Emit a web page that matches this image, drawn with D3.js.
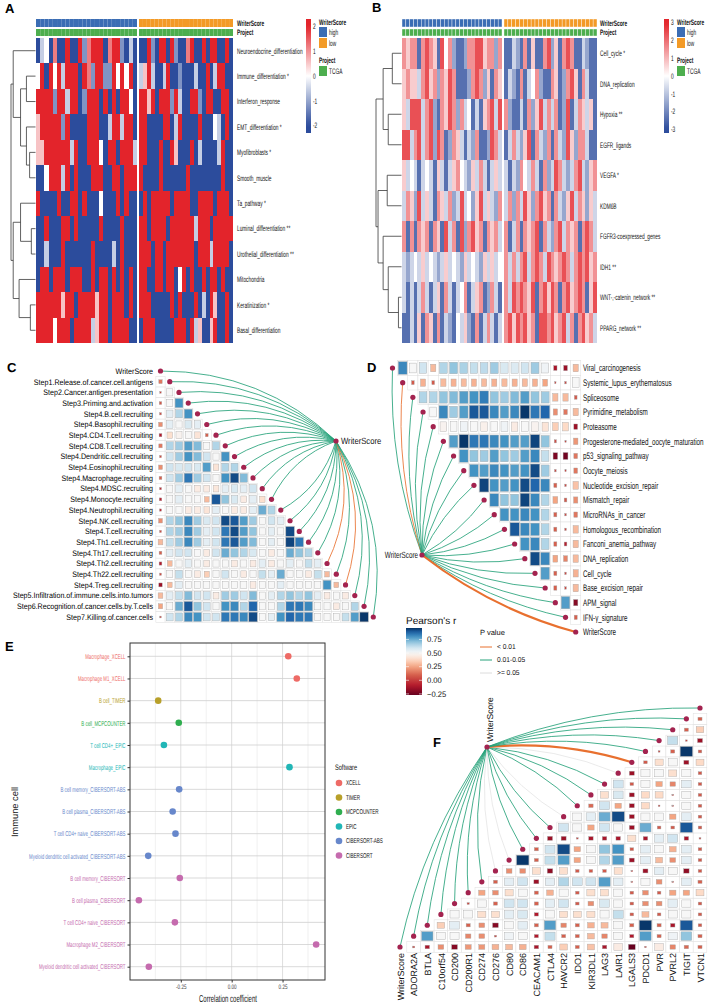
<!DOCTYPE html>
<html>
<head>
<meta charset="utf-8">
<script src="https://cdn.jsdelivr.net/npm/d3@7"></script>
<style>
  body { margin: 0; background: #fff; }
  svg { display: block; font-family: "Liberation Sans", Arial, sans-serif; }
  svg text { text-rendering: geometricPrecision; }
</style>
</head>
<body>
<div id="chart"></div>
<script>
// ---------------- data ----------------
// A: one character per sample (R r p = reds, w = white, l b B = blues)
var aRows = ["Neuroendocrine_differentiation", "Immune_differentiation *", "Interferon_response",
  "EMT_differentiation *", "Myofibroblasts *", "Smooth_muscle", "Ta_pathway *",
  "Luminal_differentiation **", "Urothelial_differentiation **", "Mitochondria",
  "Keratinization *", "Basal_differentiation"];
var aHigh = ["BlwBrBBRBBRbrRRRBrRRbBlB", "wRBRwRlRRRBRrbRRbbRwRwRB", "RRRRbRRlRRBbRRRBRBRBRRwB",
  "pRRRRRbRBBBBRRRBBlRRlRRB", "ppRRRRRRlRBBRRRwBRRBRRRl", "BBwRRRlRBRBBBRRRBBRRBRRR",
  "RBBBBRBBRRBRBBBwBBBRBRBB", "BBRBBBRRBRBBBBBRBBBBRBBB", "BBlBBBRBBBBBBRBBBBlBRBBB",
  "BRRBRRRBRRRBBRBRRBRBRBRB", "RRRRRRpRRBRRRRpRRBRRRBRB", "RRRRwRRRBRRRRlpRRBRRRRBB"];
var aLow = ["BBRbBRRBRbBBrRBBRBRRBBRB", "lpRlBBlRBBbBBBlBBRBlRRBB", "RRpRBRRRbRlBBRRbBRRBBRRB",
  "RRBBBBRRBlRBBBBRBBBwlBRB", "RRBBBRBBRpBBBRBlBBBBlRBB", "RBBBBRBBBBBBRBBBBBBBBRBB",
  "BRBRRRRRBRRRRBBRRRRBRRRB", "RRBRRRRBRRRRRRlRRRBRRRRR", "RRRBRRBRRRRRRRBRRRlRRRRB",
  "RRBBRRBRRBwRBRBBRBRRBRBB", "RRRBBBBBRBRBBBRBlBRpBBRB", "BRRRBBBBBRRRBRlpBBpRBBRB"];
var aLevels = {R: 2, r: 1.2, p: 0.55, w: 0, l: -0.55, b: -1.2, B: -2};
// merges: [child, child, height]; numbers are rows, "mK" is merge K
var aTree = [[1, 2, 0.37], [4, 5, 0.24], [3, "m1", 0.37], ["m0", "m2", 0.61], [0, "m3", 0.91],
  [7, 8, 0.17], [6, "m5", 0.61], [10, 11, 0.21], [9, "m7", 0.67], ["m6", "m8", 0.91], ["m4", "m9", 1]];
var aTicks = [2, 1, 0, -1, -2];

// B
var bRows = ["Cell_cycle *", "DNA_replication", "Hypoxia **", "EGFR_ligands", "VEGFA *", "KDM6B",
  "FGFR3-coexpressed_genes", "IDH1 **", "WNT-,-catenin_network **", "PPARG_network **"];
var bHigh = ["rprrBrRrpBRwrbBBbrrRRprrbr", "prpplrRprbrpRrBBBbrRrbpBrp", "plRRRlrRbBrpRrbrlwBlBprRlR",
  "RRlrRlrRbRrBbrplBlbrBBbRrl", "plwlBlwlBplBlprwlbplrlBlpl", "lrpbRlplBrplrblRlwbpRlplbr",
  "rBrBrprBrpBRlrBRbrRprBrprl", "lblwlplwlblplwlbplwlbplplw", "lBlBlrlBlpBrlBlwrBlprBbrlB",
  "BBlBpBrpBrBlbBwlpbBrBlrlBl"];
var bLow = ["BBlbBrBpBBrRbpBrRrBBlbBB", "BlbBrBlwrbBBrpBbrRpBrlBB", "rbBBlBrbpRlrlrBbRBlrplpB",
  "BlrlbpRBrlbrBrlbRpbrrlBB", "lBlbrwlrlBrblRrlblrRlbpr", "lrbrlRpbrRprBrlbpRlrpbpl",
  "rBlrBrprRBrlbrRlrprBrRrl", "rlrlrRlrRrlRrprRrlrRrRpr", "rlRrRrpRBrRpRrBrRprRrBpR",
  "rRpRrRprBRRrRprRlrBrRprl"];
var bLevels = {R: 2.4, r: 1.5, p: 0.7, w: 0, l: -0.7, b: -1.5, B: -2.4};
var bTree = [[0, 1, 0.36], [2, 3, 0.52], ["m0", "m1", 0.72], [4, 5, 0.56], [8, 9, 0.12],
  [7, "m4", 0.52], [6, "m5", 0.72], ["m3", "m6", 0.92], ["m2", "m7", 1]];
var bTicks = [3, 2, 1, 0, -1, -2, -3];

// C: lower triangle, row i holds r with rows 0..i-1
var cRows = ["WriterScore", "Step1.Release.of.cancer.cell.antigens", "Step2.Cancer.antigen.presentation",
  "Step3.Priming.and.activation", "Step4.B.cell.recruiting", "Step4.Basophil.recruiting",
  "Step4.CD4.T.cell.recruiting", "Step4.CD8.T.cell.recruiting", "Step4.Dendritic.cell.recruiting",
  "Step4.Eosinophil.recruiting", "Step4.Macrophage.recruiting", "Step4.MDSC.recruiting",
  "Step4.Monocyte.recruiting", "Step4.Neutrophil.recruiting", "Step4.NK.cell.recruiting",
  "Step4.T.cell.recruiting", "Step4.Th1.cell.recruiting", "Step4.Th17.cell.recruiting",
  "Step4.Th2.cell.recruiting", "Step4.Th22.cell.recruiting", "Step4.Treg.cell.recruiting",
  "Step5.Infiltration.of.immune.cells.into.tumors", "Step6.Recognition.of.cancer.cells.by.T.cells",
  "Step7.Killing.of.cancer.cells"];
var cCells = [
  [],
  [0.15],
  [0.03, 0.5],
  [0.08, 0.5, 0.8],
  [0.05, 0.55, 0.65, 0.8],
  [0.2, 0.55, 0.5, 0.58, 0.55],
  [-0.1, 0.4, 0.48, 0.5, 0.42, 0.1],
  [0.15, 0.65, 0.68, 0.78, 0.72, 0.5, 0.65],
  [0.05, 0.6, 0.68, 0.8, 0.72, 0.6, 0.5, 0.8],
  [0.2, 0.6, 0.58, 0.6, 0.58, 0.78, 0.42, 0.65, 0.65],
  [0.1, 0.6, 0.68, 0.85, 0.68, 0.6, 0.5, 0.8, 0.92, 0.72],
  [-0.05, 0.5, 0.55, 0.5, 0.45, 0.45, 0.43, 0.55, 0.58, 0.55, 0.6],
  [-0.08, 0.5, 0.55, 0.5, 0.5, 0.3, 0.9, 0.7, 0.58, 0.45, 0.55, 0.4],
  [-0.05, 0.5, 0.5, 0.45, 0.45, 0.42, 0.55, 0.5, 0.45, 0.45, 0.55, 0.75, 0.65],
  [0.2, 0.65, 0.7, 0.82, 0.68, 0.58, 0.6, 0.92, 0.9, 0.78, 0.68, 0.5, 0.6, 0.55],
  [0.05, 0.65, 0.68, 0.82, 0.68, 0.55, 0.6, 0.85, 0.92, 0.78, 0.7, 0.5, 0.55, 0.5, 0.92],
  [0.3, 0.62, 0.68, 0.82, 0.68, 0.55, 0.6, 0.85, 0.9, 0.78, 0.72, 0.5, 0.55, 0.5, 0.93, 0.85],
  [0.1, 0.55, 0.6, 0.6, 0.5, 0.45, 0.6, 0.75, 0.7, 0.65, 0.58, 0.5, 0.45, 0.5, 0.75, 0.7, 0.65],
  [-0.1, 0.3, 0.5, 0.55, 0.5, 0.45, 0.5, 0.5, 0.45, 0.5, 0.45, 0.55, 0.45, 0.5, 0.55, 0.5, 0.62, 0.55],
  [0.05, 0.5, 0.62, 0.5, 0.45, 0.35, 0.5, 0.6, 0.5, 0.45, 0.5, 0.62, 0.55, 0.75, 0.5, 0.5, 0.45, 0.62, 0.3],
  [-0.15, 0.3, 0.55, 0.5, 0.5, 0.5, 0.5, 0.5, 0.5, 0.5, 0.45, 0.5, 0.5, 0.55, 0.5, 0.5, 0.5, 0.5, 0.8, 0.3],
  [0.3, 0.55, 0.62, 0.72, 0.6, 0.6, 0.45, 0.68, 0.68, 0.6, 0.72, 0.5, 0.55, 0.65, 0.7, 0.65, 0.7, 0.55, 0.45, 0.5, 0.45],
  [0.25, 0.5, 0.75, 0.9, 0.7, 0.6, 0.5, 0.8, 0.82, 0.65, 0.88, 0.5, 0.5, 0.65, 0.85, 0.85, 0.82, 0.5, 0.5, 0.45, 0.5, 0.65],
  [0.03, 0.6, 0.65, 0.82, 0.8, 0.6, 0.6, 0.85, 0.85, 0.82, 0.92, 0.5, 0.55, 0.8, 0.88, 0.85, 0.85, 0.5, 0.5, 0.5, 0.62, 0.78, 0.95]
];
// link p value class per row: a < 0.01, b 0.01-0.05, c >= 0.05
var cLinkP = "bbbbbbbbbbbbbbbbbbababbb".split("");

// D: upper triangle, row i holds r with rows i+1..end
var dRows = ["Viral_carcinogenesis", "Systemic_lupus_erythematosus", "Spliceosome", "Pyrimidine_metabolism",
  "Proteasome", "Progesterone-mediated_oocyte_maturation", "p53_signaling_pathway", "Oocyte_meiosis",
  "Nucleotide_excision_repair", "Mismatch_repair", "MicroRNAs_in_cancer", "Homologous_recombination",
  "Fanconi_anemia_pathway", "DNA_replication", "Cell_cycle", "Base_excision_repair", "APM_signal",
  "IFN-γ_signature", "WriterScore"];
var dCells = [
  [0.82, 0.5, 0.6, 0.3, 0.65, 0.7, 0.66, 0.62, 0.63, 0.68, 0.58, 0.57, 0.6, 0.68, 0.52, -0.12, -0.15, 0.3],
  [0.08, 0.28, 0.08, 0.3, 0.28, 0.3, 0.28, 0.3, 0.28, 0.3, 0.28, 0.3, 0.28, 0.25, 0.02, 0.03, 0.5],
  [0.65, 0.65, 0.7, 0.72, 0.78, 0.8, 0.84, 0.7, 0.68, 0.72, 0.78, 0.7, 0.68, 0.3, 0.3, 0.08],
  [0.5, 0.82, 0.68, 0.78, 0.9, 0.9, 0.82, 0.78, 0.82, 0.95, 0.85, 0.88, 0.2, 0.15, 0.3],
  [0.48, 0.5, 0.52, 0.5, 0.47, 0.5, 0.52, 0.45, 0.5, 0.48, 0.42, 0.35, 0.38, -0.15],
  [0.78, 0.95, 0.85, 0.85, 0.82, 0.8, 0.78, 0.78, 0.93, 0.7, 0.05, 0.02, 0.22],
  [0.8, 0.7, 0.68, 0.78, 0.7, 0.68, 0.78, 0.82, 0.62, -0.22, -0.25, 0.15],
  [0.8, 0.78, 0.82, 0.8, 0.78, 0.8, 0.92, 0.68, 0.03, 0.02, 0.15],
  [0.93, 0.8, 0.78, 0.8, 0.92, 0.88, 0.82, 0.1, 0.03, 0.32],
  [0.82, 0.7, 0.7, 0.93, 0.82, 0.65, 0.25, 0.08, 0.2],
  [0.8, 0.8, 0.82, 0.8, 0.65, 0.1, 0.03, 0.15],
  [0.9, 0.82, 0.8, 0.65, 0.1, 0.03, 0.3],
  [0.8, 0.82, 0.65, 0.1, -0.08, 0.3],
  [0.92, 0.82, 0.25, 0.18, 0.3],
  [0.78, 0.1, 0.03, 0.28],
  [0.1, 0.03, 0.3],
  [0.78, -0.2],
  [0.1],
  []
];
var dLinkP = "babbbbbbbbbbbbbbbba".split("");
var dThick = ["WriterScore"];

// E
var eCells = ["Macrophage_XCELL", "Macrophage M1_XCELL", "B cell_TIMER", "B cell_MCPCOUNTER",
  "T cell CD4+_EPIC", "Macrophage_EPIC", "B cell memory_CIBERSORT-ABS", "B cell plasma_CIBERSORT-ABS",
  "T cell CD4+ naive_CIBERSORT-ABS", "Myeloid dendritic cell activated_CIBERSORT-ABS",
  "B cell memory_CIBERSORT", "B cell plasma_CIBERSORT", "T cell CD4+ naive_CIBERSORT",
  "Macrophage M2_CIBERSORT", "Myeloid dendritic cell activated_CIBERSORT"];
var eCoef = [0.278, 0.32, -0.361, -0.26, -0.333, 0.284, -0.258, -0.29, -0.276, -0.41,
  -0.255, -0.456, -0.279, 0.415, -0.407];
var eSoftware = ["XCELL", "XCELL", "TIMER", "MCPCOUNTER", "EPIC", "EPIC", "CIBERSORT-ABS",
  "CIBERSORT-ABS", "CIBERSORT-ABS", "CIBERSORT-ABS", "CIBERSORT", "CIBERSORT", "CIBERSORT",
  "CIBERSORT", "CIBERSORT"];
var softwareLevels = ["XCELL", "TIMER", "MCPCOUNTER", "EPIC", "CIBERSORT-ABS", "CIBERSORT"];
var eTicks = [-0.25, 0, 0.25];

// F: row k holds r with genes k+1..end
var fVars = ["WriterScore", "ADORA2A", "BTLA", "C10orf54", "CD200", "CD200R1", "CD274", "CD276",
  "CD80", "CD86", "CEACAM1", "CTLA4", "HAVCR2", "IDO1", "KIR3DL1", "LAG3", "LAIR1", "LGALS3",
  "PDCD1", "PVR", "PVRL2", "TIGIT", "VTCN1"];
var fCells = [
  [0.03, -0.12, 0.2, -0.2, 0.22, 0.22, 0.28, 0.3, 0.28, -0.12, 0.1, 0.35, 0.1, 0.32, -0.12, 0.45, -0.28, 0.02, 0.45, 0.18, 0.12, 0.1],
  [0.78, 0.5, 0.5, 0.18, 0.2, 0.03, 0.52, 0.5, -0.1, 0.62, 0.1, 0.1, 0.3, 0.18, 0.5, -0.1, 0.78, 0.1, 0.52, 0.7, 0.1],
  [0.35, 0.55, 0.1, 0.2, -0.2, 0.5, 0.55, 0.1, 0.78, 0.18, 0.1, 0.28, 0.3, 0.5, 0.1, 0.95, 0.1, -0.12, 0.9, 0.08],
  [0.5, 0.5, 0.4, 0.4, 0.55, 0.58, -0.1, 0.5, 0.4, 0.4, 0.4, 0.5, 0.62, 0.08, 0.3, 0.08, 0.5, 0.5, 0.08],
  [0.03, 0.5, 0.1, 0.6, 0.6, 0.1, 0.55, 0.6, 0.08, 0.2, 0.58, 0.5, 0.08, 0.2, 0.2, 0.55, 0.5, 0.08],
  [0.25, 0.2, 0.4, 0.5, 0.1, 0.28, 0.5, 0.08, 0.4, 0.4, 0.5, 0.08, 0.2, 0.08, 0.25, 0.25, 0.38],
  [0.1, 0.55, 0.6, -0.15, 0.55, 0.65, 0.6, 0.6, 0.78, 0.55, 0.02, 0.5, 0.2, 0.02, 0.55, 0.1],
  [0.2, 0.2, 0.4, -0.18, 0.4, 0.08, 0.08, 0.08, 0.4, 0.02, -0.15, 0.55, 0.5, -0.18, 0.08],
  [0.95, 0.1, 0.62, 0.78, 0.25, 0.5, 0.65, 0.78, -0.15, 0.55, 0.3, 0.2, 0.55, 0.08],
  [0.1, 0.6, 0.92, 0.25, 0.5, 0.7, 0.8, 0.08, 0.55, 0.5, 0.28, 0.55, 0.08],
  [-0.15, -0.15, 0.02, -0.12, -0.12, -0.12, 0.4, -0.12, 0.55, 0.6, -0.12, 0.02],
  [0.6, 0.5, 0.25, 0.6, 0.5, -0.15, 0.75, 0.08, 0.08, 0.9, 0.08],
  [0.5, 0.55, 0.75, 0.92, -0.15, 0.5, 0.5, 0.25, 0.55, 0.08],
  [0.12, 0.6, 0.25, -0.15, 0.38, 0.02, 0.02, 0.5, 0.08],
  [0.4, 0.58, -0.15, 0.38, 0.38, 0.02, 0.5, 0.08],
  [0.6, 0.08, 0.5, 0.25, 0.18, 0.55, 0.08],
  [-0.15, 0.5, 0.5, 0.4, 0.5, 0.08],
  [0.08, 0.4, 0.5, -0.15, 0.38],
  [0.02, 0.1, 0.95, 0.08],
  [0.62, 0.02, -0.15],
  [0.1, 0.35],
  [0.1],
  []
];
var fLinkP = "bbbbbbbccbbbcbbbcabbbbb".split("");
var fThick = ["LGALS3"];

var rTicks = [0.75, 0.5, 0.25, 0, -0.25];
var pLabels = {a: "< 0.01", b: "0.01-0.05", c: ">= 0.05"};

// ---------------- styles ----------------
var linkColor = {a: "#E8702F", b: "#26A27A", c: "#DCDCDC"};
var dotColor = "#A3234F";
var groupColor = {high: "#3B6DB4", low: "#F39A26", TCGA: "#4DAE4E"};
var swColor = d3.scaleOrdinal().domain(softwareLevels)
  .range(["#EE6B66", "#B8A02A", "#2FAE4F", "#21B6B6", "#6787CB", "#C56BAE"]);
var rColor = d3.scaleLinear()
  .domain([-0.27, -0.1, 0.1, 0.25, 0.38, 0.5, 0.6, 0.7, 0.8, 0.88, 0.96])
  .range(["#67001F", "#B2182B", "#D6604D", "#F4A582", "#FDDBC7", "#F7F7F7", "#D1E5F0",
    "#92C5DE", "#4393C3", "#2166AC", "#053061"]).clamp(true);

var svg = d3.select("#chart").append("svg").attr("width", 710).attr("height", 1004);
var defs = svg.append("defs");

function txt(g, x, y, s, o) {
  o = o || {};
  var tf = "translate(" + x + "," + y + ")";
  if (o.rot) tf += " rotate(" + o.rot + ")";
  if (o.sx && o.sx !== 1) tf += " scale(" + o.sx + ",1)";
  return g.append("text").attr("transform", tf)
    .attr("font-size", o.fs || 8)
    .attr("font-weight", o.bold ? "bold" : null)
    .attr("text-anchor", o.anchor || "start")
    .attr("dy", "0.35em")
    .attr("fill", o.fill || "#111")
    .text(s);
}

function gradient(id, scale, top, bottom) {
  var lg = defs.append("linearGradient").attr("id", id)
    .attr("x1", 0).attr("y1", 0).attr("x2", 0).attr("y2", 1);
  d3.range(0, 1.001, 0.05).forEach(function(t) {
    lg.append("stop").attr("offset", t).attr("stop-color", scale(top + (bottom - top) * t));
  });
}

// ---------- heatmap helpers ----------
function drawHeat(g, rows, high, low, lv, color, box) {
  var y = d3.scaleBand().domain(rows).range([box.y0, box.y1]);
  rows.forEach(function(r, i) {
    [[high[i], box.hx], [low[i], box.lx]].forEach(function(p) {
      var codes = p[0].split("");
      var x = d3.scaleBand().domain(d3.range(codes.length)).range(p[1]);
      g.selectAll(null).data(codes).enter().append("rect")
        .attr("x", function(d, j) { return x(j); })
        .attr("y", y(r))
        .attr("width", x.bandwidth())
        .attr("height", y.bandwidth())
        .attr("shape-rendering", "crispEdges")
        .attr("fill", function(d) { return color(lv[d]); });
    });
    txt(g, box.lab, y(r) + y.bandwidth() / 2, r, {fs: 8, sx: 0.6});
  });
  return y;
}

function drawAnno(g, nHigh, nLow, box, sep) {
  [["high", nHigh, box.hx], ["low", nLow, box.lx]].forEach(function(p) {
    var x = d3.scaleBand().domain(d3.range(p[1])).range(p[2]);
    [[groupColor[p[0]], box.a0, 8], [groupColor.TCGA, box.a1, 7]].forEach(function(b) {
      g.selectAll(null).data(d3.range(p[1])).enter().append("rect")
        .attr("x", function(d) { return x(d); }).attr("y", b[1])
        .attr("width", x.bandwidth()).attr("height", b[2])
        .attr("fill", b[0])
        .attr("stroke", sep ? "#fff" : null).attr("stroke-width", sep ? 0.4 : null);
    });
  });
  txt(g, box.lab, box.a0 + 4, "WriterScore", {fs: 8, sx: 0.6, bold: true});
  txt(g, box.lab, box.a1 + 3.5, "Project", {fs: 8, sx: 0.6, bold: true});
}

function drawTree(g, merges, y, rows, hx) {
  var nodes = {};
  function pos(id) {
    if (typeof id === "number") return {x: hx(0), y: y(rows[id]) + y.bandwidth() / 2};
    return nodes[id];
  }
  merges.forEach(function(m, k) {
    var a = pos(m[0]), b = pos(m[1]), h = hx(m[2]);
    var p = d3.path();
    p.moveTo(a.x, a.y); p.lineTo(h, a.y); p.lineTo(h, b.y); p.lineTo(b.x, b.y);
    g.append("path").attr("d", p.toString()).attr("fill", "none")
      .attr("stroke", "#3a3a3a").attr("stroke-width", 0.8);
    nodes["m" + k] = {x: h, y: (a.y + b.y) / 2};
  });
}

function heatLegend(g, id, color, ticks, lim, box) {
  gradient(id, color, lim, -lim);
  var yb = d3.scaleLinear().domain([lim, -lim]).range([box.y0, box.y1]);
  g.append("rect").attr("x", box.x).attr("y", box.y0).attr("width", box.w)
    .attr("height", box.y1 - box.y0).attr("fill", "url(#" + id + ")");
  ticks.forEach(function(t) {
    txt(g, box.x + box.w + 2, yb(t), String(t), {fs: 8, sx: 0.6});
  });
  var lx = box.lx;
  txt(g, lx, 22, "WriterScore", {fs: 8, sx: 0.6, bold: true});
  [["high", 27], ["low", 38]].forEach(function(d) {
    g.append("rect").attr("x", lx).attr("y", d[1]).attr("width", 8).attr("height", 10).attr("fill", groupColor[d[0]]);
    txt(g, lx + 10, d[1] + 5, d[0], {fs: 8, sx: 0.6});
  });
  txt(g, lx, 60, "Project", {fs: 8, sx: 0.6, bold: true});
  g.append("rect").attr("x", lx).attr("y", 66).attr("width", 8).attr("height", 10).attr("fill", groupColor.TCGA);
  txt(g, lx + 10, 71, "TCGA", {fs: 8, sx: 0.6});
}

// ---------- panel A ----------
var gA = svg.append("g");
var heatA = d3.scaleLinear().domain([-2, 0, 2]).range(["#2C4C9C", "#ffffff", "#E3242B"]).clamp(true);
var boxA = {y0: 38, y1: 343, hx: [36, 137], lx: [139, 233], lab: 237, a0: 19, a1: 29};
var yA = drawHeat(gA, aRows, aHigh, aLow, aLevels, heatA, boxA);
drawAnno(gA, aHigh[0].length, aLow[0].length, boxA, false);
drawTree(gA, aTree, yA, aRows, d3.scaleLinear().domain([0, 1]).range([35.5, 11]));
heatLegend(gA, "gradA", heatA, aTicks, 2.3, {x: 306, w: 5, y0: 19, y1: 133, lx: 319});

// ---------- panel B ----------
var gB = svg.append("g");
var heatB = d3.scaleLinear().domain([-3, 0, 3]).range(["#2C4C9C", "#ffffff", "#E3242B"]).clamp(true);
var boxB = {y0: 38, y1: 343, hx: [402, 502], lx: [504, 597], lab: 600, a0: 19, a1: 29};
var yB = drawHeat(gB, bRows, bHigh, bLow, bLevels, heatB, boxB);
drawAnno(gB, bHigh[0].length, bLow[0].length, boxB, true);
drawTree(gB, bTree, yB, bRows, d3.scaleLinear().domain([0, 1]).range([401.5, 376]));
heatLegend(gB, "gradB", heatB, bTicks, 3.2, {x: 664, w: 5, y0: 19, y1: 133, lx: 677});

// ---------- correlation helpers ----------
function drawCorr(g, data, w, h) {
  g.selectAll(null).data(data).enter().append("rect")
    .attr("x", function(d) { return d.cx - w / 2; }).attr("y", function(d) { return d.cy - h / 2; })
    .attr("width", w).attr("height", h)
    .attr("fill", "#fff").attr("stroke", "#dedede").attr("stroke-width", 0.5);
  g.selectAll(null).data(data).enter().append("rect")
    .each(function(d) { d.f = Math.max(0.12, Math.min(1, Math.sqrt(Math.abs(d.r)) * 1.05)) * 0.9; })
    .attr("x", function(d) { return d.cx - w * d.f / 2; })
    .attr("y", function(d) { return d.cy - h * d.f / 2; })
    .attr("width", function(d) { return w * d.f; })
    .attr("height", function(d) { return h * d.f; })
    .attr("fill", function(d) { return rColor(d.r); })
    .attr("stroke", "#a8a8a8").attr("stroke-width", 0.4);
}

// curved link from hub to each point, bent away from the reference point
function drawLinks(g, hub, targets, ref, k) {
  targets.forEach(function(t) {
    var dx = t.x - hub[0], dy = t.y - hub[1], len = Math.hypot(dx, dy);
    var mx = (hub[0] + t.x) / 2, my = (hub[1] + t.y) / 2;
    var nx = -dy / len, ny = dx / len, off = k * len;
    var c1 = [mx + nx * off, my + ny * off], c2 = [mx - nx * off, my - ny * off];
    var c = Math.hypot(c1[0] - ref[0], c1[1] - ref[1]) > Math.hypot(c2[0] - ref[0], c2[1] - ref[1]) ? c1 : c2;
    var p = d3.path();
    p.moveTo(hub[0], hub[1]);
    p.quadraticCurveTo(c[0], c[1], t.x, t.y);
    g.append("path").attr("d", p.toString()).attr("fill", "none")
      .attr("stroke", linkColor[t.p])
      .attr("stroke-width", t.thick ? 2.2 : (t.p === "c" ? 0.6 : 0.85));
  });
}

function drawDots(g, pts) {
  g.selectAll(null).data(pts).enter().append("circle")
    .attr("cx", function(d) { return d.x; }).attr("cy", function(d) { return d.y; })
    .attr("r", 2.6).attr("fill", dotColor);
}

// ---------- panel C ----------
var gC = svg.append("g");
var yC = d3.scalePoint().domain(cRows).range([371, 617]);
var xC = d3.scalePoint().domain(cRows).range([160.5, 373.3]);
var cData = [];
cCells.forEach(function(row, i) {
  row.forEach(function(r, j) { cData.push({cx: xC(cRows[j]), cy: yC(cRows[i]), r: r}); });
});
var cPts = cRows.map(function(r, i) { return {x: xC(r), y: yC(r), p: cLinkP[i]}; });
var hubC = [336, 441];
drawLinks(gC, hubC, cPts, [240, 560], 0.2);
drawCorr(gC, cData, xC.step(), yC.step());
drawDots(gC, cPts.concat([{x: hubC[0], y: hubC[1]}]));
cRows.forEach(function(r) { txt(gC, 153, yC(r), r, {fs: 8, sx: 0.89, anchor: "end", fill: "#000"}); });
txt(gC, hubC[0] + 5, hubC[1], "WriterScore", {fs: 9, sx: 0.85});

// ---------- panel D ----------
var gD = svg.append("g");
var yD = d3.scalePoint().domain(dRows).range([368, 632]);
var xD = d3.scalePoint().domain(dRows).range([392.5, 575.7]);
var dData = [];
dCells.forEach(function(row, i) {
  row.forEach(function(r, m) { dData.push({cx: xD(dRows[i + 1 + m]), cy: yD(dRows[i]), r: r}); });
});
var dPts = dRows.map(function(r, i) {
  return {x: xD(r), y: yD(r), p: dLinkP[i], thick: dThick.indexOf(r) >= 0};
});
var hubD = [422, 555];
drawLinks(gD, hubD, dPts, [540, 450], 0.1);
drawCorr(gD, dData, xD.step(), yD.step());
drawDots(gD, dPts.concat([{x: hubD[0], y: hubD[1]}]));
dRows.forEach(function(r) { txt(gD, 583, yD(r), r, {fs: 9.5, sx: 0.66}); });
txt(gD, hubD[0] - 4, hubD[1], "WriterScore", {fs: 9, sx: 0.7, anchor: "end"});

// Pearson's r legend
var gL = svg.append("g");
gradient("gradR", rColor, 0.96, -0.27);
var yR = d3.scaleLinear().domain([0.96, -0.27]).range([628, 695]);
txt(gL, 406, 620, "Pearson's r", {fs: 10});
gL.append("rect").attr("x", 406).attr("y", 628).attr("width", 16).attr("height", 67).attr("fill", "url(#gradR)");
rTicks.forEach(function(t) {
  gL.append("line").attr("x1", 406).attr("x2", 409).attr("y1", yR(t)).attr("y2", yR(t)).attr("stroke", "#fff").attr("stroke-width", 0.6);
  gL.append("line").attr("x1", 419).attr("x2", 422).attr("y1", yR(t)).attr("y2", yR(t)).attr("stroke", "#fff").attr("stroke-width", 0.6);
  txt(gL, 427, yR(t), t < 0 ? "\u2212" + Math.abs(t).toFixed(2) : t.toFixed(2), {fs: 8, sx: 0.95});
});
txt(gL, 480, 632, "P value", {fs: 7.5});
["a", "b", "c"].forEach(function(k, i) {
  var y = 647 + i * 13;
  gL.append("line").attr("x1", 480).attr("x2", 492).attr("y1", y).attr("y2", y)
    .attr("stroke", linkColor[k]).attr("stroke-width", 1);
  txt(gL, 497, y, pLabels[k], {fs: 7, sx: 0.95});
});

// ---------- panel E ----------
var gE = svg.append("g");
var ext = d3.extent(eCoef), pad = (ext[1] - ext[0]) * 0.05;
var xE = d3.scaleLinear().domain([ext[0] - pad, ext[1] + pad]).range([130, 325]);
var yE = d3.scalePoint().domain(eCells).range([643, 980]).padding(0.6);
var eMinor = [eTicks[0] - 0.125].concat(eTicks.slice(1).map(function(t, i) { return (t + eTicks[i]) / 2; }), [eTicks[eTicks.length - 1] + 0.125]);
gE.selectAll(null).data(eMinor).enter().append("line")
  .attr("x1", function(d) { return xE(d); }).attr("x2", function(d) { return xE(d); })
  .attr("y1", 643).attr("y2", 980).attr("stroke", "#e6e6e6").attr("stroke-width", 0.6);
gE.selectAll(null).data(eTicks).enter().append("line")
  .attr("x1", function(d) { return xE(d); }).attr("x2", function(d) { return xE(d); })
  .attr("y1", 643).attr("y2", 980).attr("stroke", "#d6d6d6").attr("stroke-width", 0.8);
gE.selectAll(null).data(eCells).enter().append("line")
  .attr("x1", 130).attr("x2", 325)
  .attr("y1", function(d) { return yE(d); }).attr("y2", function(d) { return yE(d); })
  .attr("stroke", "#cfcfcf").attr("stroke-width", 0.8);
gE.append("rect").attr("x", 130).attr("y", 643).attr("width", 195).attr("height", 337)
  .attr("fill", "none").attr("stroke", "#333").attr("stroke-width", 1);
gE.selectAll(null).data(eCells).enter().append("circle")
  .attr("cx", function(d, i) { return xE(eCoef[i]); })
  .attr("cy", function(d) { return yE(d); })
  .attr("r", 3.3).attr("fill", function(d, i) { return swColor(eSoftware[i]); });

var axB = gE.append("g").attr("transform", "translate(0,980)")
  .call(d3.axisBottom(xE).tickValues(eTicks).tickSize(2.5).tickPadding(1.5)
    .tickFormat(function(d) { return d.toFixed(2); }));
axB.select(".domain").remove();
axB.selectAll("line").attr("stroke", "#333");
axB.selectAll("text").attr("font-size", 6.5).attr("fill", "#444").attr("transform", "scale(0.7,1)");
axB.attr("font-family", null);

var axL = gE.append("g").attr("transform", "translate(130,0)")
  .call(d3.axisLeft(yE).tickSize(2.5).tickPadding(2));
axL.select(".domain").remove();
axL.selectAll("line").attr("stroke", "#333");
axL.selectAll("text")
  .attr("font-size", 7).attr("x", -4.5 / 0.62).attr("transform", "scale(0.62,1)")
  .attr("fill", function(d) { return swColor(eSoftware[eCells.indexOf(d)]); });
axL.attr("font-family", null);

txt(gE, 228, 998, "Correlation coefficient", {fs: 10, sx: 0.6, anchor: "middle"});
txt(gE, 15, 812, "Immune cell", {fs: 9.3, rot: -90, anchor: "middle"});
txt(gE, 335, 767, "Software", {fs: 8, sx: 0.7});
softwareLevels.forEach(function(s, i) {
  var y = 783 + i * 14.5;
  gE.append("circle").attr("cx", 339).attr("cy", y).attr("r", 3.3).attr("fill", swColor(s));
  txt(gE, 346, y, s, {fs: 7, sx: 0.65});
});

// ---------- panel F ----------
var gF = svg.append("g");
var xF = d3.scalePoint().domain(fVars).range([400, 700]);
var yF = d3.scalePoint().domain(fVars).range([947, 708]);
var fData = [];
fCells.forEach(function(row, k) {
  row.forEach(function(r, m) { fData.push({cx: xF(fVars[k + 1 + m]), cy: yF(fVars[k]), r: r}); });
});
var fPts = fVars.map(function(v, k) {
  return {x: xF(v), y: yF(v), p: fLinkP[k], thick: fThick.indexOf(v) >= 0};
});
var hubF = [487, 747];
drawLinks(gF, hubF, fPts, [640, 880], 0.1);
drawCorr(gF, fData, xF.step(), yF.step());
drawDots(gF, fPts.concat([{x: hubF[0], y: hubF[1]}]));
fVars.forEach(function(v) { txt(gF, xF(v) + 0.5, 953, v, {fs: 9, rot: -90, anchor: "end"}); });
txt(gF, hubF[0] + 3, 742, "WriterScore", {fs: 8.5, rot: -90});

// ---------- panel letters ----------
[["A", 5, 8], ["B", 372, 7], ["C", 7, 367], ["D", 367, 367], ["E", 5, 646], ["F", 433, 742]].forEach(function(l) {
  txt(svg, l[1], l[2], l[0], {fs: 13, bold: true, fill: "#000"});
});
</script>
</body>
</html>
